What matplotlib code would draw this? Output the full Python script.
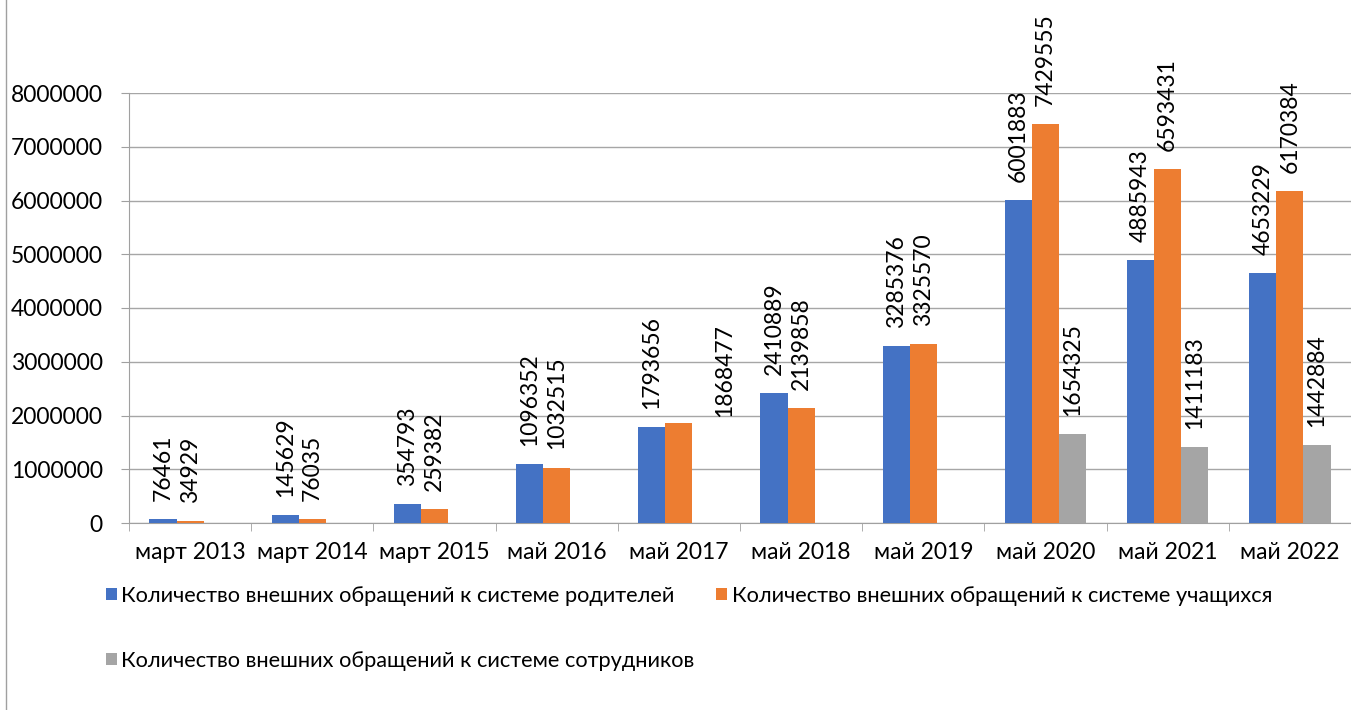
import numpy as np
import matplotlib
matplotlib.use("Agg")
import matplotlib.pyplot as plt
from matplotlib.lines import Line2D

plt.rcParams["font.family"] = ["Lato", "DejaVu Sans"]

categories = ["март 2013", "март 2014", "март 2015", "май 2016", "май 2017",
              "май 2018", "май 2019", "май 2020", "май 2021", "май 2022"]
parents = [76461, 145629, 354793, 1096352, 1793656, 2410889, 3285376,
           6001883, 4885943, 4653229]
students = [34929, 76035, 259382, 1032515, 1868477, 2139858, 3325570,
            7429555, 6593431, 6170384]
staff = [None, None, None, None, None, None, None, 1654325, 1411183, 1442884]
series_names = ["Количество внешних обращений к системе родителей",
                "Количество внешних обращений к системе учащихся",
                "Количество внешних обращений к системе сотрудников"]
colors = ["#4472C4", "#ED7D31", "#A5A5A5"]

FS = 16.5
W, H = 1351, 710
fig = plt.figure(figsize=(W / 100, H / 100), dpi=100)
ax = fig.add_axes([129 / W, 1 - 523 / H, 1 - 129 / W, (523 - 93) / H])

x = np.arange(len(categories))
bw = 1 / 4.5
handles = []
for i, (vals, col) in enumerate(zip([parents, students, staff], colors)):
    xs = x + (i - 1) * bw
    h = np.array([np.nan if v is None else v for v in vals], dtype=float)
    bars = ax.bar(xs, np.nan_to_num(h), width=bw, color=col, zorder=3)
    handles.append(bars)
    for xi, v in zip(xs, vals):
        if v is None:
            continue
        if i == 1 and v == 1868477:
            # label moved by hand in the original, next to the group
            ax.text(4.377, 1970000, str(v), rotation=90, ha="center",
                    va="bottom", fontsize=FS)
            continue
        ax.annotate(str(v), (xi, v), xytext=(0, 13), textcoords="offset points",
                    rotation=90, ha="center", va="bottom", fontsize=FS)

ax.set_xlim(-0.5, len(categories) - 0.5)
ax.set_ylim(0, 8000000)
ax.set_yticks(np.arange(0, 8000001, 1000000))
ax.set_yticklabels([str(v) for v in range(0, 8000001, 1000000)], fontsize=FS)
ax.set_xticks(x)
ax.set_xticklabels(categories, fontsize=FS)
ax.set_xticks(np.arange(-0.5, len(categories)), minor=True)
ax.tick_params(axis="x", which="major", length=0, pad=14)
ax.tick_params(axis="x", which="minor", length=6, color="#a0a0a0", direction="out")
ax.tick_params(axis="y", length=6, color="#a0a0a0", pad=13)
ax.grid(axis="y", color="#a6a6a6", linewidth=1, zorder=0)
for s in ["top", "right"]:
    ax.spines[s].set_visible(False)
for s in ["left", "bottom"]:
    ax.spines[s].set_color("#a0a0a0")

order = [0, 2, 1]
fig.legend([handles[k] for k in order], [series_names[k] for k in order],
           ncol=2, loc="upper left", bbox_to_anchor=(106 / W, 1 - 586 / H),
           frameon=False, fontsize=15.7, handlelength=0.5, handleheight=0.5,
           handletextpad=0.2, labelspacing=2.05, columnspacing=1.0,
           borderaxespad=0, borderpad=0)

fig.add_artist(Line2D([6 / W, 6 / W], [0, 1], color="#a0a0a0", linewidth=1))

fig.savefig("out.png", dpi=100)
